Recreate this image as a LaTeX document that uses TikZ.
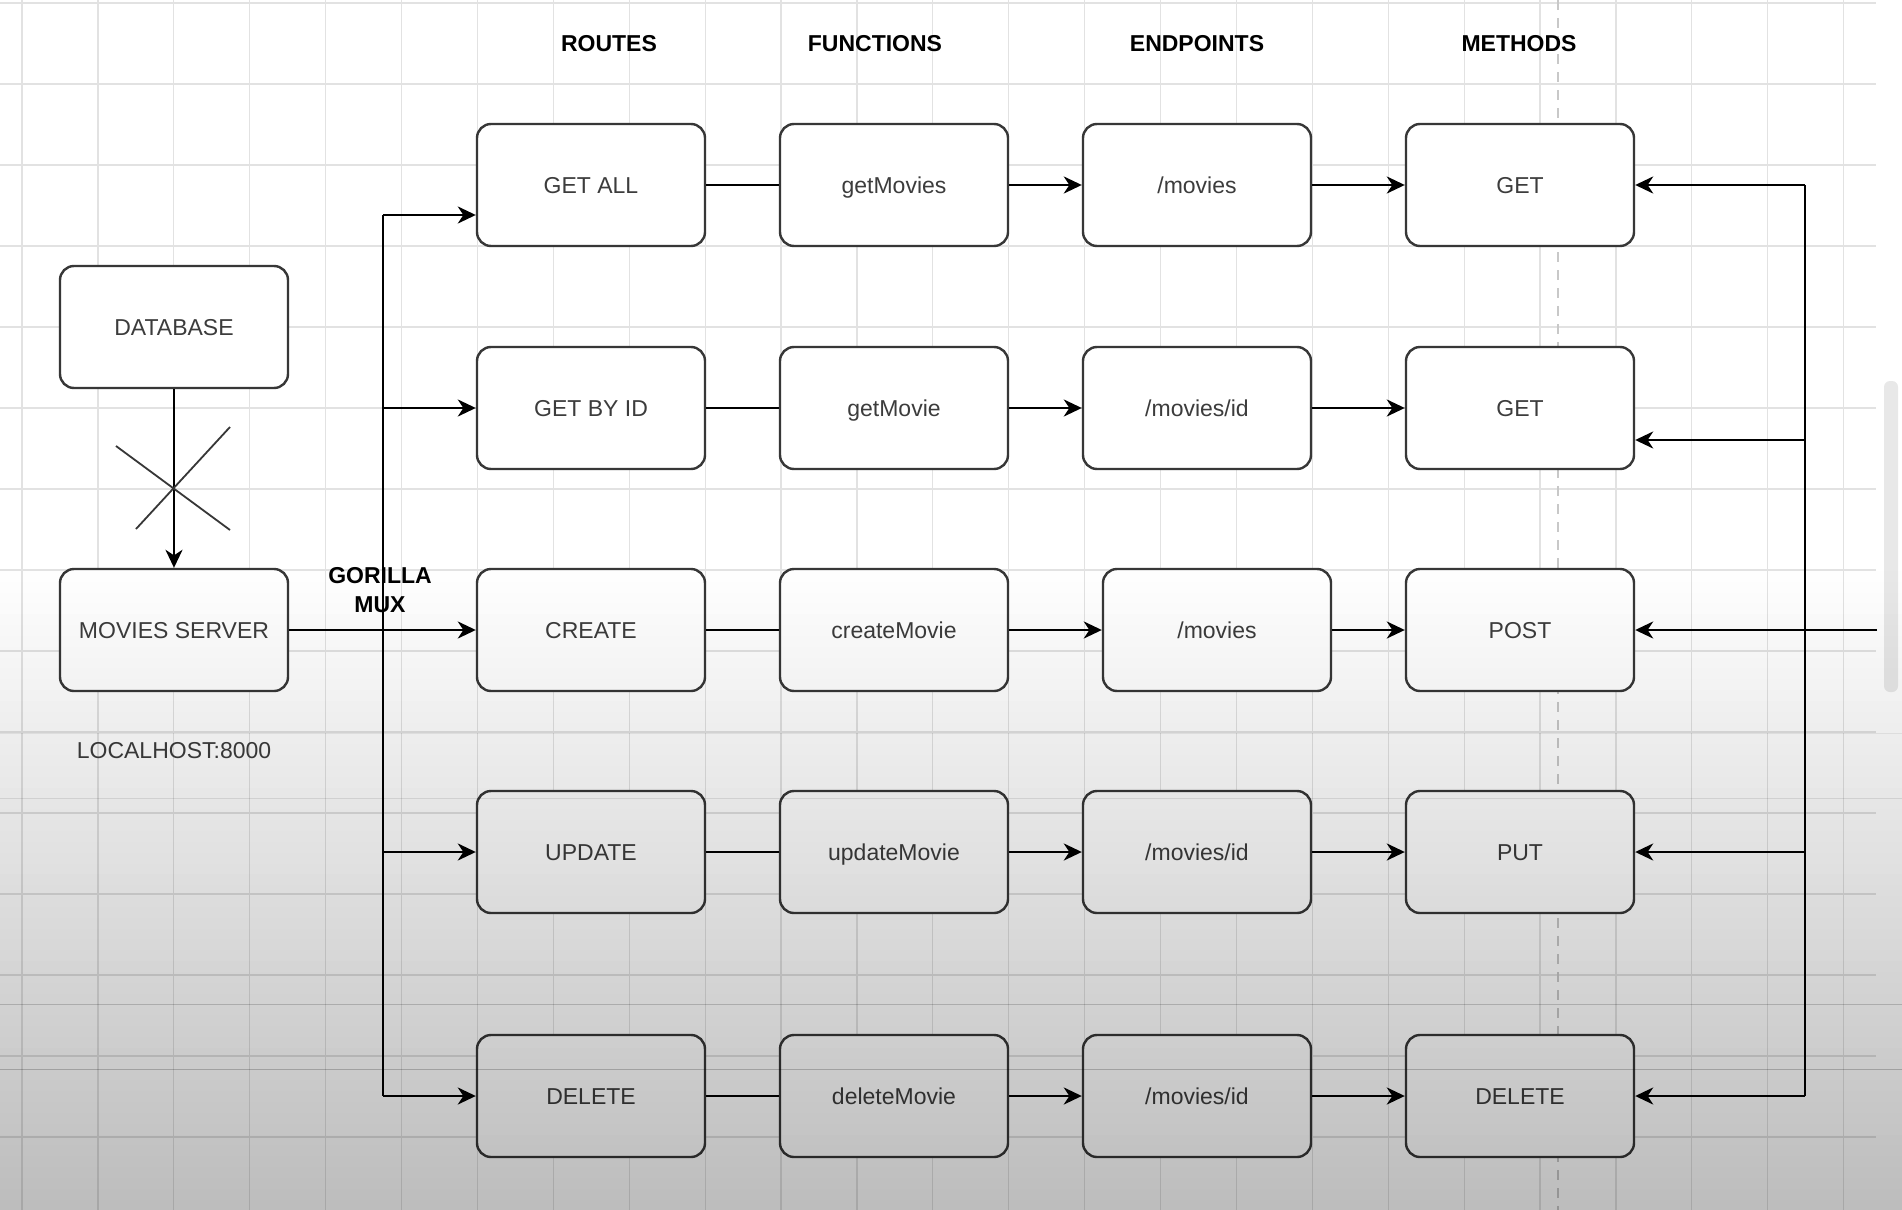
\documentclass[tikz,border=0pt]{standalone}
\usepackage{fontspec}
\setmainfont{Liberation Sans}
\usepackage{xcolor}
\usepackage{tikz}
\usetikzlibrary{arrows.meta}
\definecolor{GridGray}{RGB}{226,226,226}
\definecolor{PageGray}{RGB}{200,200,200}
\definecolor{BoxLine}{RGB}{55,55,55}
\definecolor{TextGray}{RGB}{60,60,60}
\tikzstyle{box} = [rectangle, rounded corners=7pt, minimum width=114pt, minimum height=61pt, text centered, text height=8.2pt, text depth=0pt, draw=BoxLine, fill=white, line width=1.2pt, text=TextGray, font=\fontsize{11.5}{13}\selectfont]
\tikzstyle{header} = [text centered, text=black, font=\fontsize{11.5}{14.5}\selectfont\bfseries]
\tikzstyle{note} = [text centered, text=TextGray, font=\fontsize{11.5}{13}\selectfont]
\tikzstyle{wire} = [line width=1.3pt]
\tikzstyle{arrow} = [line width=1.3pt, -{Stealth[length=9pt,width=8.5pt,inset=2.8pt]}]

\begin{document}
\begin{tikzpicture}[x=0.5pt, y=-0.5pt]

% Canvas
\useasboundingbox (0,0) rectangle (1902,1210);
\fill[white] (0,0) rectangle (1902,1210);
\foreach \gx in {0,...,24} \draw[GridGray, line width=0.6pt] (22+75.9*\gx,0) -- (22+75.9*\gx,1210);
\foreach \gy in {0,...,14} \draw[GridGray, line width=0.6pt] (0,3+81*\gy) -- (1876,3+81*\gy);
\draw[PageGray, line width=0.6pt, dash pattern=on 5pt off 4pt] (1558,0) -- (1558,1210);
\fill[gray!18, rounded corners=3pt] (1884,381) rectangle (1898,692);

% Column titles
\node (routes) [header] at (609,44) {ROUTES};
\node (functions) [header] at (875,44) {FUNCTIONS};
\node (endpoints) [header] at (1197,44) {ENDPOINTS};
\node (methods) [header] at (1519,44) {METHODS};

% Server
\node (database) [box] at (174,327) {DATABASE};
\node (server) [box] at (174,630) {MOVIES SERVER};
\node (host) [note] at (174,751) {LOCALHOST:8000};
\node (gorilla) [header, align=center] at (380,590) {GORILLA\\MUX};

% Routes
\node (getall) [box] at (591,185) {GET ALL};
\node (getbyid) [box] at (591,408) {GET BY ID};
\node (create) [box] at (591,630) {CREATE};
\node (update) [box] at (591,852) {UPDATE};
\node (delete) [box] at (591,1096) {DELETE};

% Functions
\node (getmovies) [box] at (894,185) {getMovies};
\node (getmovie) [box] at (894,408) {getMovie};
\node (createmovie) [box] at (894,630) {createMovie};
\node (updatemovie) [box] at (894,852) {updateMovie};
\node (deletemovie) [box] at (894,1096) {deleteMovie};

% Endpoints
\node (epall) [box] at (1197,185) {/movies};
\node (epid) [box] at (1197,408) {/movies/id};
\node (epcreate) [box] at (1217,630) {/movies};
\node (epupdate) [box] at (1197,852) {/movies/id};
\node (epdelete) [box] at (1197,1096) {/movies/id};

% Methods
\node (mget) [box] at (1520,185) {GET};
\node (mgetid) [box] at (1520,408) {GET};
\node (mpost) [box] at (1520,630) {POST};
\node (mput) [box] at (1520,852) {PUT};
\node (mdelete) [box] at (1520,1096) {DELETE};

% Database to server, crossed out
\draw [arrow] (database) -- (server);
\coordinate (crossa) at (116,446);
\coordinate (crossb) at (230,530);
\coordinate (crossc) at (230,427);
\coordinate (crossd) at (136,529);
\draw [wire, line width=0.9pt, BoxLine] (crossa) -- (crossb);
\draw [wire, line width=0.9pt, BoxLine] (crossc) -- (crossd);

% Router bus
\coordinate (muxtop) at (383,215);
\coordinate (muxbot) at (383,1096);
\draw [wire] (muxtop) -- (muxbot);
\draw [arrow] (server) -- (create);
\draw [arrow] (muxtop) -- (getall.west |- muxtop);
\draw [arrow] (muxtop |- getbyid) -- (getbyid);
\draw [arrow] (muxtop |- update) -- (update);
\draw [arrow] (muxbot) -- (delete);

% Routes to functions
\draw [wire] (getall) -- (getmovies);
\draw [wire] (getbyid) -- (getmovie);
\draw [wire] (create) -- (createmovie);
\draw [wire] (update) -- (updatemovie);
\draw [wire] (delete) -- (deletemovie);

% Functions to endpoints
\draw [arrow] (getmovies) -- (epall);
\draw [arrow] (getmovie) -- (epid);
\draw [arrow] (createmovie) -- (epcreate);
\draw [arrow] (updatemovie) -- (epupdate);
\draw [arrow] (deletemovie) -- (epdelete);

% Endpoints to methods
\draw [arrow] (epall) -- (mget);
\draw [arrow] (epid) -- (mgetid);
\draw [arrow] (epcreate) -- (mpost);
\draw [arrow] (epupdate) -- (mput);
\draw [arrow] (epdelete) -- (mdelete);

% Client bus
\coordinate (clienttop) at (1805,185);
\coordinate (clientid) at (1805,440);
\coordinate (clientbot) at (1805,1096);
\coordinate (client) at (1877,630);
\draw [wire] (clienttop) -- (clientbot);
\draw [arrow] (clienttop) -- (mget);
\draw [arrow] (clientid) -- (mgetid.east |- clientid);
\draw [arrow] (client) -- (mpost);
\draw [arrow] (clienttop |- mput) -- (mput);
\draw [arrow] (clientbot) -- (mdelete);

% Screen shading, in thin bands
\foreach \band in {0,...,59}
  \fill[black, opacity=0.26*\band/59] (0,560+10.84*\band) rectangle (1902,570.9+10.84*\band);

\end{tikzpicture}
\end{document}
